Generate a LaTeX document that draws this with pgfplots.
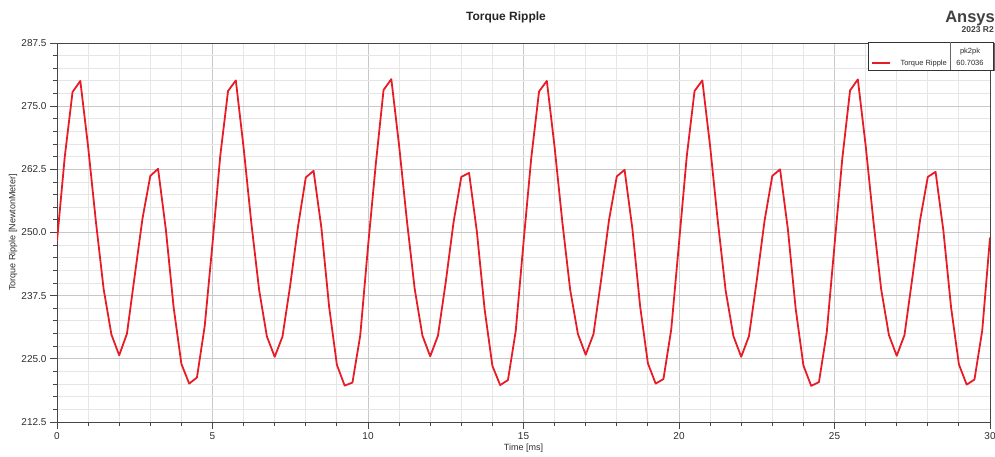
\documentclass[border=0pt]{standalone}
\usepackage{fontspec}
\setmainfont{Liberation Sans}
\usepackage{pgfplots}
\pgfplotsset{compat=1.18}
\definecolor{curve}{RGB}{232,28,38}
\definecolor{majgrid}{RGB}{200,200,200}
\definecolor{mingrid}{RGB}{230,230,230}
\definecolor{axcol}{RGB}{70,70,70}
\definecolor{txt}{RGB}{45,45,45}
\begin{document}
\begin{tikzpicture}[x=1pt,y=1pt]
\begin{axis}[
  at={(57pt,34pt)}, anchor=south west, scale only axis,
  width=933pt, height=379pt,
  xmin=0, xmax=30, ymin=212.5, ymax=287.5,
  xtick={0,5,...,30}, minor x tick num=4,
  ytick={212.5,225,237.5,250,262.5,275,287.5}, minor y tick num=4,
  grid=both,
  major grid style={majgrid, line width=0.9pt},
  minor grid style={mingrid, line width=0.9pt},
  tick align=outside, xtick pos=bottom, ytick pos=left,
  major tick length=7pt, minor tick length=4pt,
  tick style={axcol, line width=0.9pt},
  axis line style={axcol, line width=1pt},
  /pgf/number format/assume math mode=true,
  yticklabel style={/pgf/number format/fixed, /pgf/number format/fixed zerofill, /pgf/number format/precision=1},
  ticklabel style={font=\fontsize{10}{12}\selectfont, text=txt},
  xlabel={Time [ms]}, ylabel={Torque Ripple [NewtonMeter]},
  label style={font=\fontsize{9}{11}\selectfont, text=txt},
  xlabel style={at={(axis description cs:0.5,0)}, yshift=-26pt, anchor=center},
  ylabel style={at={(axis description cs:-0.0472,0.5)}, anchor=center},
]
\addplot[curve, line width=1.8pt, line join=round] table {
t v
0 248.3
0.25 265.0
0.5 277.8
0.75 280.0
1 267.0
1.25 252.2
1.5 238.8
1.75 229.8
2 225.7
2.25 230.0
2.5 241.5
2.75 252.8
3 261.2
3.25 262.6
3.5 250.6
3.75 235.2
4 224.0
4.25 220.1
4.5 221.3
4.75 231.5
5 247.8
5.25 265.2
5.5 278.0
5.75 280.1
6 266.8
6.25 251.8
6.5 238.6
6.75 229.4
7 225.4
7.25 229.4
7.5 239.6
7.75 251.2
8 260.9
8.25 262.2
8.5 251.0
8.75 235.3
9 223.8
9.25 219.7
9.5 220.3
9.75 229.6
10 247.2
10.25 263.5
10.5 278.2
10.75 280.35
11 267.2
11.25 252.4
11.5 238.9
11.75 229.6
12 225.5
12.25 229.6
12.5 240.2
12.75 252.0
13 261.0
13.25 261.8
13.5 250.2
13.75 234.8
14 223.6
14.25 219.8
14.5 220.8
14.75 230.5
15 248.0
15.25 264.8
15.5 277.9
15.75 280.0
16 266.9
16.25 252.0
16.5 238.7
16.75 229.9
17 225.8
17.25 229.9
17.5 240.8
17.75 252.5
18 261.1
18.25 262.4
18.5 250.8
18.75 235.4
19 224.1
19.25 220.1
19.5 221.0
19.75 230.8
20 247.9
20.25 265.1
20.5 278.0
20.75 280.1
21 267.1
21.25 252.1
21.5 238.5
21.75 229.5
22 225.4
22.25 229.5
22.5 240.5
22.75 252.3
23 261.2
23.25 262.5
23.5 250.7
23.75 235.0
24 223.7
24.25 219.65
24.5 220.4
24.75 230.2
25 247.5
25.25 264.6
25.5 278.1
25.75 280.3
26 267.3
26.25 252.3
26.5 238.8
26.75 229.7
27 225.6
27.25 229.7
27.5 240.9
27.75 252.4
28 261.0
28.25 262.0
28.5 250.4
28.75 235.1
29 223.9
29.25 219.9
29.5 220.9
29.75 230.6
30 249.0
};
\end{axis}
% title and logo
\node[font=\bfseries\fontsize{12}{14}\selectfont, text=black!85, anchor=base] at (506,435) {Torque Ripple};
\node[font=\bfseries\fontsize{16.5}{18}\selectfont, text=black!75, anchor=base east, inner sep=0pt] at (995,433.5) {Ansys};
\node[font=\bfseries\fontsize{8.5}{10}\selectfont, text=black!75, anchor=base east, inner sep=0pt] at (994,423) {2023 R2};
% legend table
\fill[black!60] (869.5,384.5) rectangle (994.5,412.5);
\filldraw[fill=white, draw=black!80, line width=0.8pt] (868,386) rectangle (993,414);
\draw[draw=black!60, line width=0.6pt] (950,386) -- (950,414);
\draw[draw=curve, line width=1.5pt] (872,393) -- (890,393);
\node[font=\fontsize{7.5}{9}\selectfont, text=txt, anchor=base east, inner sep=0pt] at (947,390) {Torque Ripple};
\node[font=\fontsize{7.5}{9}\selectfont, text=txt, anchor=base, inner sep=0pt] at (970,390) {60.7036};
\node[font=\fontsize{7.5}{9}\selectfont, text=txt, anchor=base, inner sep=0pt] at (970,402.5) {pk2pk};
\pgfresetboundingbox
\path[use as bounding box] (0,0) rectangle (995,456);
\end{tikzpicture}
\end{document}
